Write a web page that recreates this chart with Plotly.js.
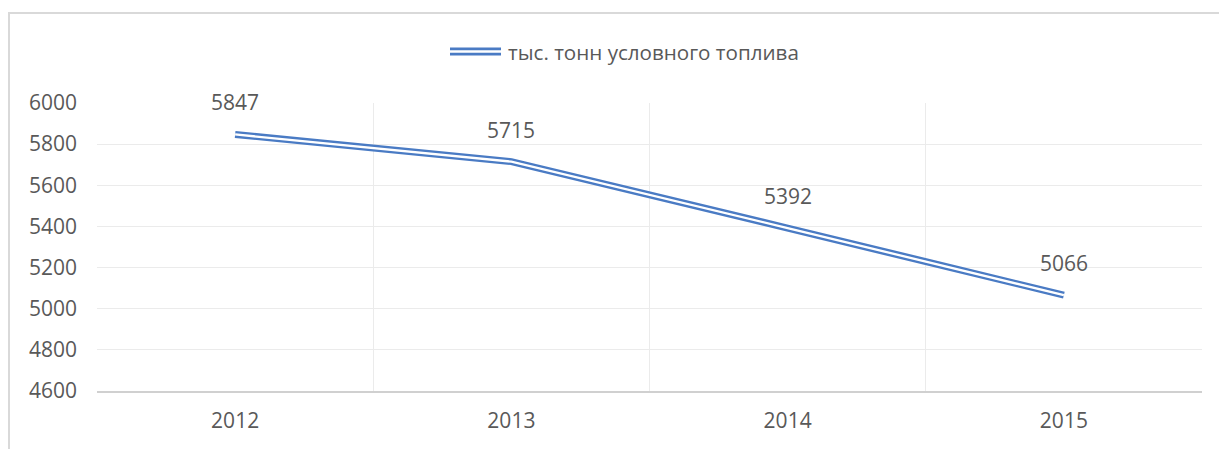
<!DOCTYPE html>
<html>
<head>
<meta charset="utf-8">
<script src="https://cdn.plot.ly/plotly-3.0.1.min.js"></script>
<style>
html,body{margin:0;padding:0;background:#fff;}
#wrap{position:relative;width:1219px;height:449px;overflow:hidden;}
#frame{position:absolute;left:8px;top:12px;width:1300px;height:500px;border-top:2px solid #D9D9D9;border-left:2px solid #D9D9D9;pointer-events:none;z-index:5;}
#chart{position:absolute;left:0;top:0;width:1219px;height:449px;}
</style>
</head>
<body>
<div id="wrap">
<div id="chart"></div>
<div id="frame"></div>
</div>
<script>
const years = ['2012', '2013', '2014', '2015'];
const values = [5847, 5715, 5392, 5066];
const seriesName = 'тыс. тонн условного топлива';
const yTicks = [4600, 4800, 5000, 5200, 5400, 5600, 5800, 6000];

const blue = '#4A7BC4';
const textColor = '#595959';
const font = 'Open Sans, Noto Sans, sans-serif';

const traces = [
  {x: years, y: values, type: 'scatter', mode: 'lines', line: {color: blue, width: 7}, showlegend: false, hoverinfo: 'skip'},
  {x: years, y: values, type: 'scatter', mode: 'lines', line: {color: '#ffffff', width: 2.3}, showlegend: false, hoverinfo: 'skip'}
];

// data labels (category index used as x position)
const annotations = years.map((yr, i) => ({
  x: i, y: values[i], xref: 'x', yref: 'y', text: String(values[i]),
  showarrow: false, yshift: 32, font: {family: font, size: 21, color: textColor}
}));

// manual legend
annotations.push({
  xref: 'paper', yref: 'paper', x: (506 - 97) / 1105, y: (391 - 52) / 288,
  xanchor: 'left', yanchor: 'middle', showarrow: false, text: seriesName,
  font: {family: font, size: 20.6, color: textColor}
});

const lx0 = (450 - 97) / 1105, lx1 = (501 - 97) / 1105, ly = (391 - 51.5) / 288;
const shapes = [
  {type: 'line', xref: 'paper', yref: 'paper', x0: lx0, x1: lx1, y0: ly, y1: ly, line: {color: blue, width: 8}},
  {type: 'line', xref: 'paper', yref: 'paper', x0: lx0, x1: lx1, y0: ly, y1: ly, line: {color: '#ffffff', width: 2.5}}
];

const layout = {
  width: 1219, height: 449,
  margin: {l: 97, r: 17, t: 103, b: 58, pad: 0},
  paper_bgcolor: '#ffffff', plot_bgcolor: '#ffffff',
  showlegend: false,
  xaxis: {
    type: 'category', range: [-0.5, 3.5], tickson: 'boundaries',
    showgrid: true, gridcolor: '#EBEBEB', gridwidth: 1,
    showline: true, linecolor: '#D0D0D0', linewidth: 1.5,
    ticks: '', ticklabelstandoff: 10,
    tickfont: {family: font, size: 21, color: textColor},
    zeroline: false, fixedrange: true
  },
  yaxis: {
    range: [4600, 6000], tickvals: yTicks, ticktext: yTicks.map(String),
    showgrid: true, gridcolor: '#EBEBEB', gridwidth: 1,
    showline: false, zeroline: false, ticks: '', ticklabelstandoff: 19,
    tickfont: {family: font, size: 21, color: textColor}, fixedrange: true
  },
  annotations: annotations,
  shapes: shapes
};

Plotly.newPlot('chart', traces, layout, {staticPlot: true, displayModeBar: false});
</script>
</body>
</html>
